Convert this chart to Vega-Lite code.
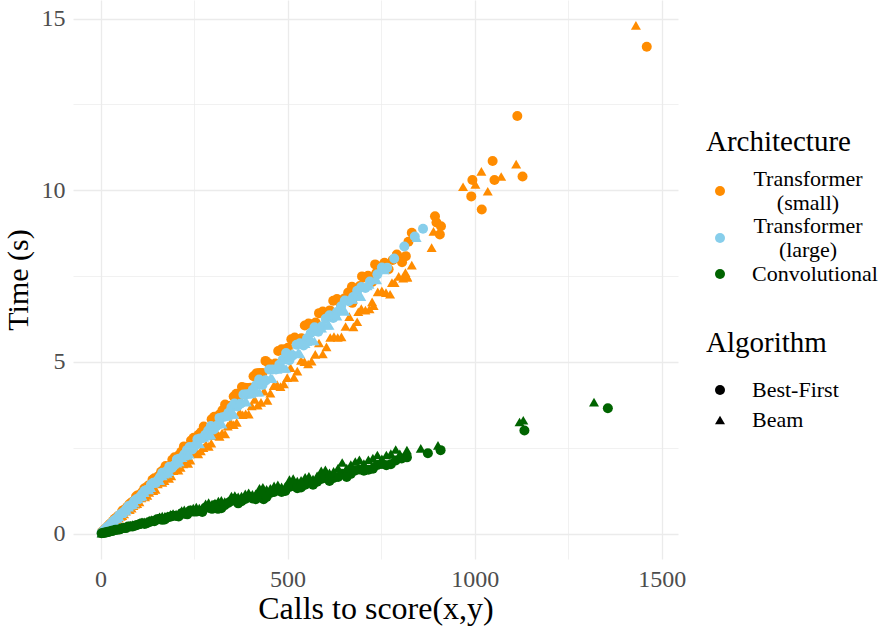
{
"$schema": "https://vega.github.io/schema/vega-lite/v6.json",
"width": 605, "height": 559,
"autosize": {"type": "none"},
"padding": {"left": 73, "top": 0, "right": 210, "bottom": 71},
"background": "white",
"config": {"view": {"stroke": null}, "font": "Liberation Serif"},
"datasets": {
"series": [
{"s":1,"arch":"Transformer (small)","alg":"Best-First"},
{"s":2,"arch":"Transformer (small)","alg":"Beam"},
{"s":3,"arch":"Transformer (large)","alg":"Best-First"},
{"s":4,"arch":"Transformer (large)","alg":"Beam"},
{"s":5,"arch":"Convolutional","alg":"Best-First"},
{"s":6,"arch":"Convolutional","alg":"Beam"}
],
"points": [
{"s":1,"x":4,"y":0.05},{"s":1,"x":12,"y":0.13},{"s":1,"x":20,"y":0.22},{"s":1,"x":30,"y":0.32},{"s":1,"x":38,"y":0.43},{"s":1,"x":47,"y":0.51},{"s":1,"x":58,"y":0.66},{"s":1,"x":66,"y":0.70},{"s":1,"x":77,"y":0.85},{"s":1,"x":86,"y":0.93},{"s":1,"x":95,"y":1.08},{"s":1,"x":106,"y":1.11},{"s":1,"x":117,"y":1.31},{"s":1,"x":128,"y":1.40},{"s":1,"x":139,"y":1.57},{"s":1,"x":150,"y":1.61},{"s":1,"x":162,"y":1.80},{"s":1,"x":174,"y":1.97},{"s":1,"x":186,"y":1.97},{"s":1,"x":198,"y":2.22},{"s":1,"x":210,"y":2.29},{"s":1,"x":223,"y":2.54},{"s":1,"x":236,"y":2.53},{"s":1,"x":249,"y":2.79},{"s":1,"x":262,"y":2.88},{"s":1,"x":276,"y":3.12},{"s":1,"x":290,"y":3.07},{"s":1,"x":304,"y":3.40},{"s":1,"x":318,"y":3.47},{"s":1,"x":333,"y":3.76},{"s":1,"x":348,"y":3.72},{"s":1,"x":363,"y":4.07},{"s":1,"x":378,"y":4.27},{"s":1,"x":393,"y":4.24},{"s":1,"x":409,"y":4.58},{"s":1,"x":425,"y":4.68},{"s":1,"x":441,"y":5.03},{"s":1,"x":458,"y":4.85},{"s":1,"x":475,"y":5.32},{"s":1,"x":492,"y":5.36},{"s":1,"x":510,"y":5.66},{"s":1,"x":528,"y":5.65},{"s":1,"x":546,"y":6.06},{"s":1,"x":565,"y":6.10},{"s":1,"x":584,"y":6.42},{"s":1,"x":603,"y":6.39},{"s":1,"x":622,"y":6.78},{"s":1,"x":642,"y":6.68},{"s":1,"x":662,"y":7.02},{"s":1,"x":683,"y":7.03},{"s":1,"x":704,"y":7.46},{"s":1,"x":726,"y":7.33},{"s":1,"x":748,"y":7.78},{"s":1,"x":770,"y":7.70},{"s":1,"x":793,"y":8.09},{"s":1,"x":816,"y":8.08},
{"s":1,"x":8,"y":0.09},{"s":1,"x":16,"y":0.17},{"s":1,"x":25,"y":0.28},{"s":1,"x":34,"y":0.37},{"s":1,"x":43,"y":0.47},{"s":1,"x":52,"y":0.55},{"s":1,"x":62,"y":0.69},{"s":1,"x":71,"y":0.77},{"s":1,"x":81,"y":0.89},{"s":1,"x":91,"y":0.96},{"s":1,"x":100,"y":1.12},{"s":1,"x":111,"y":1.20},{"s":1,"x":122,"y":1.34},{"s":1,"x":133,"y":1.41},{"s":1,"x":144,"y":1.61},{"s":1,"x":156,"y":1.68},{"s":1,"x":168,"y":1.85},{"s":1,"x":180,"y":1.91},{"s":1,"x":192,"y":2.15},{"s":1,"x":204,"y":2.20},{"s":1,"x":216,"y":2.38},{"s":1,"x":229,"y":2.43},{"s":1,"x":242,"y":2.71},{"s":1,"x":255,"y":2.75},{"s":1,"x":269,"y":2.96},{"s":1,"x":283,"y":3.00},{"s":1,"x":297,"y":3.33},{"s":1,"x":311,"y":3.36},{"s":1,"x":326,"y":3.59},{"s":1,"x":341,"y":3.61},{"s":1,"x":356,"y":3.99},{"s":1,"x":371,"y":4.01},{"s":1,"x":386,"y":4.25},{"s":1,"x":401,"y":4.25},{"s":1,"x":417,"y":4.67},{"s":1,"x":433,"y":4.68},{"s":1,"x":450,"y":4.95},{"s":1,"x":467,"y":4.95},{"s":1,"x":484,"y":5.37},{"s":1,"x":501,"y":5.41},{"s":1,"x":519,"y":5.71},{"s":1,"x":537,"y":5.69},{"s":1,"x":556,"y":6.12},{"s":1,"x":575,"y":6.15},{"s":1,"x":594,"y":6.47},{"s":1,"x":613,"y":6.50},{"s":1,"x":632,"y":6.83},{"s":1,"x":652,"y":6.85},{"s":1,"x":672,"y":7.19},{"s":1,"x":693,"y":7.21},{"s":1,"x":715,"y":7.51},{"s":1,"x":737,"y":7.59},{"s":1,"x":759,"y":7.89},{"s":1,"x":781,"y":7.97},
{"s":1,"x":823,"y":8.50},{"s":1,"x":832,"y":8.76},{"s":1,"x":894,"y":9.24},{"s":1,"x":898,"y":9.06},{"s":1,"x":907,"y":8.71},{"s":1,"x":910,"y":8.95},{"s":1,"x":991,"y":9.82},{"s":1,"x":994,"y":10.30},{"s":1,"x":1019,"y":9.44},{"s":1,"x":1048,"y":10.85},{"s":1,"x":1053,"y":10.30},{"s":1,"x":1114,"y":12.16},{"s":1,"x":1128,"y":10.40},{"s":1,"x":1460,"y":14.18},{"s":1,"x":806,"y":7.90},{"s":1,"x":792,"y":8.13},{"s":1,"x":734,"y":7.84},{"s":1,"x":699,"y":7.49},{"s":1,"x":673,"y":6.72},
{"s":2,"x":6,"y":0.05},{"s":2,"x":15,"y":0.14},{"s":2,"x":25,"y":0.23},{"s":2,"x":34,"y":0.33},{"s":2,"x":44,"y":0.39},{"s":2,"x":54,"y":0.50},{"s":2,"x":63,"y":0.57},{"s":2,"x":73,"y":0.70},{"s":2,"x":83,"y":0.74},{"s":2,"x":93,"y":0.86},{"s":2,"x":104,"y":0.92},{"s":2,"x":114,"y":1.08},{"s":2,"x":125,"y":1.11},{"s":2,"x":136,"y":1.26},{"s":2,"x":147,"y":1.29},{"s":2,"x":159,"y":1.53},{"s":2,"x":171,"y":1.54},{"s":2,"x":183,"y":1.61},{"s":2,"x":195,"y":1.83},{"s":2,"x":208,"y":1.85},{"s":2,"x":221,"y":2.03},{"s":2,"x":234,"y":2.04},{"s":2,"x":247,"y":2.35},{"s":2,"x":261,"y":2.32},{"s":2,"x":275,"y":2.50},{"s":2,"x":289,"y":2.54},{"s":2,"x":303,"y":2.85},{"s":2,"x":318,"y":2.83},{"s":2,"x":333,"y":2.90},{"s":2,"x":348,"y":3.24},{"s":2,"x":364,"y":3.24},{"s":2,"x":380,"y":3.46},{"s":2,"x":396,"y":3.48},{"s":2,"x":412,"y":3.91},{"s":2,"x":429,"y":3.82},{"s":2,"x":446,"y":3.88},{"s":2,"x":463,"y":4.31},{"s":2,"x":481,"y":4.28},{"s":2,"x":499,"y":4.54},{"s":2,"x":517,"y":4.55},{"s":2,"x":536,"y":5.04},{"s":2,"x":555,"y":4.94},{"s":2,"x":574,"y":5.22},{"s":2,"x":594,"y":5.23},{"s":2,"x":614,"y":5.71},{"s":2,"x":634,"y":5.71},{"s":2,"x":655,"y":6.03},{"s":2,"x":676,"y":6.02},{"s":2,"x":697,"y":6.55},{"s":2,"x":719,"y":6.54},{"s":2,"x":741,"y":7.04},{"s":2,"x":763,"y":7.02},{"s":2,"x":786,"y":7.31},{"s":2,"x":809,"y":7.44},{"s":2,"x":832,"y":7.82},
{"s":2,"x":10,"y":0.09},{"s":2,"x":20,"y":0.18},{"s":2,"x":29,"y":0.28},{"s":2,"x":39,"y":0.35},{"s":2,"x":49,"y":0.45},{"s":2,"x":58,"y":0.52},{"s":2,"x":68,"y":0.65},{"s":2,"x":78,"y":0.70},{"s":2,"x":88,"y":0.81},{"s":2,"x":98,"y":0.87},{"s":2,"x":109,"y":1.04},{"s":2,"x":119,"y":1.07},{"s":2,"x":130,"y":1.20},{"s":2,"x":141,"y":1.25},{"s":2,"x":153,"y":1.45},{"s":2,"x":165,"y":1.49},{"s":2,"x":177,"y":1.63},{"s":2,"x":189,"y":1.68},{"s":2,"x":201,"y":1.91},{"s":2,"x":214,"y":1.93},{"s":2,"x":227,"y":2.09},{"s":2,"x":240,"y":2.14},{"s":2,"x":254,"y":2.41},{"s":2,"x":268,"y":2.41},{"s":2,"x":282,"y":2.59},{"s":2,"x":296,"y":2.63},{"s":2,"x":310,"y":2.95},{"s":2,"x":325,"y":2.93},{"s":2,"x":340,"y":3.13},{"s":2,"x":356,"y":3.17},{"s":2,"x":372,"y":3.53},{"s":2,"x":388,"y":3.49},{"s":2,"x":404,"y":3.72},{"s":2,"x":420,"y":3.74},{"s":2,"x":437,"y":4.15},{"s":2,"x":454,"y":4.09},{"s":2,"x":472,"y":4.34},{"s":2,"x":490,"y":4.36},{"s":2,"x":508,"y":4.83},{"s":2,"x":526,"y":4.73},{"s":2,"x":545,"y":5.01},{"s":2,"x":564,"y":5.02},{"s":2,"x":584,"y":5.55},{"s":2,"x":604,"y":5.44},{"s":2,"x":624,"y":5.74},{"s":2,"x":644,"y":5.73},{"s":2,"x":665,"y":6.32},{"s":2,"x":686,"y":6.17},{"s":2,"x":708,"y":6.51},{"s":2,"x":730,"y":6.64},{"s":2,"x":752,"y":7.07},{"s":2,"x":774,"y":6.97},{"s":2,"x":797,"y":7.49},{"s":2,"x":820,"y":7.46},
{"s":2,"x":885,"y":8.33},{"s":2,"x":890,"y":8.80},{"s":2,"x":969,"y":10.10},{"s":2,"x":1002,"y":10.17},{"s":2,"x":1018,"y":10.55},{"s":2,"x":1035,"y":9.97},{"s":2,"x":1071,"y":10.40},{"s":2,"x":1111,"y":10.76},{"s":2,"x":1431,"y":14.80},{"s":2,"x":819,"y":7.49},{"s":2,"x":779,"y":7.31},{"s":2,"x":726,"y":6.75},{"s":2,"x":689,"y":6.46},{"s":2,"x":815,"y":7.60},
{"s":3,"x":3,"y":0.03},{"s":3,"x":10,"y":0.10},{"s":3,"x":18,"y":0.19},{"s":3,"x":27,"y":0.28},{"s":3,"x":36,"y":0.38},{"s":3,"x":45,"y":0.45},{"s":3,"x":55,"y":0.58},{"s":3,"x":65,"y":0.66},{"s":3,"x":75,"y":0.80},{"s":3,"x":85,"y":0.85},{"s":3,"x":96,"y":1.00},{"s":3,"x":107,"y":1.09},{"s":3,"x":118,"y":1.25},{"s":3,"x":129,"y":1.29},{"s":3,"x":141,"y":1.48},{"s":3,"x":153,"y":1.55},{"s":3,"x":165,"y":1.77},{"s":3,"x":178,"y":1.83},{"s":3,"x":191,"y":1.91},{"s":3,"x":204,"y":2.16},{"s":3,"x":217,"y":2.21},{"s":3,"x":231,"y":2.43},{"s":3,"x":245,"y":2.45},{"s":3,"x":259,"y":2.75},{"s":3,"x":273,"y":2.78},{"s":3,"x":288,"y":3.00},{"s":3,"x":303,"y":3.03},{"s":3,"x":318,"y":3.37},{"s":3,"x":334,"y":3.41},{"s":3,"x":350,"y":3.68},{"s":3,"x":366,"y":3.70},{"s":3,"x":382,"y":4.05},{"s":3,"x":399,"y":4.07},{"s":3,"x":416,"y":4.33},{"s":3,"x":433,"y":4.33},{"s":3,"x":451,"y":4.78},{"s":3,"x":469,"y":4.78},{"s":3,"x":487,"y":5.06},{"s":3,"x":505,"y":5.05},{"s":3,"x":524,"y":5.50},{"s":3,"x":543,"y":5.48},{"s":3,"x":562,"y":5.84},{"s":3,"x":582,"y":5.88},{"s":3,"x":602,"y":6.26},{"s":3,"x":622,"y":6.28},{"s":3,"x":643,"y":6.62},{"s":3,"x":664,"y":6.77},{"s":3,"x":686,"y":7.07},{"s":3,"x":708,"y":7.15},{"s":3,"x":740,"y":7.55},{"s":3,"x":766,"y":7.74},{"s":3,"x":840,"y":8.65},{"s":3,"x":862,"y":8.88},
{"s":3,"x":6,"y":0.06},{"s":3,"x":14,"y":0.15},{"s":3,"x":22,"y":0.22},{"s":3,"x":31,"y":0.32},{"s":3,"x":40,"y":0.41},{"s":3,"x":50,"y":0.53},{"s":3,"x":60,"y":0.61},{"s":3,"x":70,"y":0.73},{"s":3,"x":80,"y":0.82},{"s":3,"x":90,"y":0.95},{"s":3,"x":101,"y":1.02},{"s":3,"x":112,"y":1.16},{"s":3,"x":123,"y":1.27},{"s":3,"x":135,"y":1.43},{"s":3,"x":147,"y":1.48},{"s":3,"x":159,"y":1.65},{"s":3,"x":171,"y":1.76},{"s":3,"x":184,"y":1.95},{"s":3,"x":197,"y":1.99},{"s":3,"x":210,"y":2.18},{"s":3,"x":224,"y":2.31},{"s":3,"x":238,"y":2.52},{"s":3,"x":252,"y":2.55},{"s":3,"x":266,"y":2.77},{"s":3,"x":280,"y":2.88},{"s":3,"x":295,"y":3.13},{"s":3,"x":310,"y":3.13},{"s":3,"x":326,"y":3.39},{"s":3,"x":342,"y":3.52},{"s":3,"x":358,"y":3.79},{"s":3,"x":374,"y":3.78},{"s":3,"x":390,"y":4.06},{"s":3,"x":407,"y":4.19},{"s":3,"x":424,"y":4.49},{"s":3,"x":442,"y":4.46},{"s":3,"x":460,"y":4.78},{"s":3,"x":478,"y":4.92},{"s":3,"x":496,"y":5.26},{"s":3,"x":514,"y":5.19},{"s":3,"x":533,"y":5.54},{"s":3,"x":552,"y":5.69},{"s":3,"x":572,"y":6.01},{"s":3,"x":592,"y":6.04},{"s":3,"x":612,"y":6.36},{"s":3,"x":632,"y":6.45},{"s":3,"x":653,"y":6.79},{"s":3,"x":675,"y":6.89},{"s":3,"x":697,"y":7.18},{"s":3,"x":720,"y":7.34},{"s":3,"x":752,"y":7.75},{"s":3,"x":785,"y":8.01},{"s":3,"x":812,"y":8.36},
{"s":4,"x":7,"y":0.07},{"s":4,"x":14,"y":0.14},{"s":4,"x":23,"y":0.22},{"s":4,"x":32,"y":0.32},{"s":4,"x":41,"y":0.43},{"s":4,"x":50,"y":0.49},{"s":4,"x":60,"y":0.61},{"s":4,"x":70,"y":0.69},{"s":4,"x":80,"y":0.83},{"s":4,"x":91,"y":0.89},{"s":4,"x":101,"y":1.02},{"s":4,"x":112,"y":1.09},{"s":4,"x":124,"y":1.28},{"s":4,"x":135,"y":1.34},{"s":4,"x":147,"y":1.50},{"s":4,"x":159,"y":1.54},{"s":4,"x":171,"y":1.73},{"s":4,"x":184,"y":1.80},{"s":4,"x":197,"y":2.03},{"s":4,"x":211,"y":2.09},{"s":4,"x":224,"y":2.26},{"s":4,"x":238,"y":2.31},{"s":4,"x":252,"y":2.60},{"s":4,"x":266,"y":2.61},{"s":4,"x":281,"y":2.84},{"s":4,"x":296,"y":2.87},{"s":4,"x":311,"y":3.17},{"s":4,"x":326,"y":3.19},{"s":4,"x":342,"y":3.45},{"s":4,"x":358,"y":3.47},{"s":4,"x":374,"y":3.81},{"s":4,"x":391,"y":3.83},{"s":4,"x":408,"y":4.12},{"s":4,"x":425,"y":4.12},{"s":4,"x":442,"y":4.51},{"s":4,"x":460,"y":4.51},{"s":4,"x":478,"y":4.83},{"s":4,"x":496,"y":4.81},{"s":4,"x":515,"y":5.25},{"s":4,"x":534,"y":5.23},{"s":4,"x":553,"y":5.59},{"s":4,"x":572,"y":5.61},{"s":4,"x":592,"y":5.98},{"s":4,"x":612,"y":6.06},{"s":4,"x":633,"y":6.33},{"s":4,"x":654,"y":6.47},{"s":4,"x":675,"y":6.82},{"s":4,"x":697,"y":6.90},{"s":4,"x":719,"y":7.26},{"s":4,"x":739,"y":7.39},{"s":4,"x":760,"y":7.68},{"s":4,"x":845,"y":8.62},
{"s":4,"x":3,"y":0.03},{"s":4,"x":11,"y":0.11},{"s":4,"x":19,"y":0.20},{"s":4,"x":28,"y":0.28},{"s":4,"x":37,"y":0.37},{"s":4,"x":46,"y":0.45},{"s":4,"x":56,"y":0.58},{"s":4,"x":66,"y":0.66},{"s":4,"x":76,"y":0.77},{"s":4,"x":86,"y":0.84},{"s":4,"x":96,"y":0.99},{"s":4,"x":107,"y":1.07},{"s":4,"x":118,"y":1.19},{"s":4,"x":130,"y":1.27},{"s":4,"x":142,"y":1.46},{"s":4,"x":154,"y":1.54},{"s":4,"x":166,"y":1.68},{"s":4,"x":179,"y":1.75},{"s":4,"x":192,"y":1.98},{"s":4,"x":205,"y":2.05},{"s":4,"x":219,"y":2.21},{"s":4,"x":233,"y":2.28},{"s":4,"x":247,"y":2.54},{"s":4,"x":262,"y":2.62},{"s":4,"x":277,"y":2.80},{"s":4,"x":292,"y":2.86},{"s":4,"x":307,"y":3.16},{"s":4,"x":322,"y":3.22},{"s":4,"x":338,"y":3.41},{"s":4,"x":354,"y":3.47},{"s":4,"x":370,"y":3.81},{"s":4,"x":386,"y":3.86},{"s":4,"x":403,"y":4.07},{"s":4,"x":420,"y":4.12},{"s":4,"x":437,"y":4.50},{"s":4,"x":455,"y":4.55},{"s":4,"x":473,"y":4.78},{"s":4,"x":491,"y":4.81},{"s":4,"x":510,"y":5.25},{"s":4,"x":529,"y":5.29},{"s":4,"x":548,"y":5.53},{"s":4,"x":567,"y":5.61},{"s":4,"x":587,"y":5.99},{"s":4,"x":607,"y":6.07},{"s":4,"x":628,"y":6.41},{"s":4,"x":649,"y":6.49},{"s":4,"x":670,"y":6.83},{"s":4,"x":692,"y":6.92},{"s":4,"x":714,"y":7.21},{"s":4,"x":735,"y":7.42},
{"s":5,"x":3,"y":0.01},{"s":5,"x":11,"y":0.03},{"s":5,"x":20,"y":0.05},{"s":5,"x":30,"y":0.08},{"s":5,"x":40,"y":0.11},{"s":5,"x":51,"y":0.12},{"s":5,"x":62,"y":0.16},{"s":5,"x":74,"y":0.21},{"s":5,"x":86,"y":0.21},{"s":5,"x":98,"y":0.25},{"s":5,"x":111,"y":0.30},{"s":5,"x":124,"y":0.30},{"s":5,"x":137,"y":0.36},{"s":5,"x":151,"y":0.42},{"s":5,"x":165,"y":0.40},{"s":5,"x":179,"y":0.47},{"s":5,"x":194,"y":0.52},{"s":5,"x":209,"y":0.50},{"s":5,"x":224,"y":0.58},{"s":5,"x":240,"y":0.67},{"s":5,"x":256,"y":0.64},{"s":5,"x":272,"y":0.63},{"s":5,"x":289,"y":0.75},{"s":5,"x":306,"y":0.83},{"s":5,"x":314,"y":0.72},{"s":5,"x":323,"y":0.74},{"s":5,"x":341,"y":0.89},{"s":5,"x":359,"y":1.01},{"s":5,"x":377,"y":0.94},{"s":5,"x":396,"y":1.07},{"s":5,"x":415,"y":1.00},{"s":5,"x":436,"y":1.00},{"s":5,"x":454,"y":1.18},{"s":5,"x":474,"y":1.28},{"s":5,"x":494,"y":1.24},{"s":5,"x":515,"y":1.39},{"s":5,"x":536,"y":1.34},{"s":5,"x":557,"y":1.50},{"s":5,"x":579,"y":1.51},{"s":5,"x":601,"y":1.62},{"s":5,"x":623,"y":1.62},{"s":5,"x":646,"y":1.74},{"s":5,"x":669,"y":1.74},{"s":5,"x":692,"y":1.87},{"s":5,"x":716,"y":1.86},{"s":5,"x":740,"y":2.00},{"s":5,"x":764,"y":1.99},{"s":5,"x":789,"y":2.13},{"s":5,"x":805,"y":2.19},{"s":5,"x":819,"y":2.22},{"s":5,"x":875,"y":2.34},{"s":5,"x":909,"y":2.43},{"s":5,"x":1133,"y":3.00},{"s":5,"x":1356,"y":3.65},
{"s":5,"x":7,"y":0.02},{"s":5,"x":16,"y":0.04},{"s":5,"x":25,"y":0.06},{"s":5,"x":35,"y":0.09},{"s":5,"x":45,"y":0.11},{"s":5,"x":56,"y":0.15},{"s":5,"x":68,"y":0.16},{"s":5,"x":80,"y":0.21},{"s":5,"x":92,"y":0.23},{"s":5,"x":105,"y":0.28},{"s":5,"x":118,"y":0.28},{"s":5,"x":131,"y":0.34},{"s":5,"x":144,"y":0.36},{"s":5,"x":158,"y":0.43},{"s":5,"x":172,"y":0.41},{"s":5,"x":187,"y":0.49},{"s":5,"x":202,"y":0.51},{"s":5,"x":217,"y":0.59},{"s":5,"x":232,"y":0.56},{"s":5,"x":248,"y":0.64},{"s":5,"x":264,"y":0.66},{"s":5,"x":281,"y":0.76},{"s":5,"x":298,"y":0.72},{"s":5,"x":315,"y":0.82},{"s":5,"x":332,"y":0.83},{"s":5,"x":350,"y":0.95},{"s":5,"x":368,"y":0.88},{"s":5,"x":387,"y":1.01},{"s":5,"x":406,"y":1.02},{"s":5,"x":425,"y":1.15},{"s":5,"x":444,"y":1.07},{"s":5,"x":464,"y":1.21},{"s":5,"x":484,"y":1.21},{"s":5,"x":505,"y":1.36},{"s":5,"x":526,"y":1.32},{"s":5,"x":547,"y":1.42},{"s":5,"x":568,"y":1.42},{"s":5,"x":590,"y":1.59},{"s":5,"x":612,"y":1.53},{"s":5,"x":635,"y":1.65},{"s":5,"x":658,"y":1.65},{"s":5,"x":681,"y":1.84},{"s":5,"x":704,"y":1.83},{"s":5,"x":728,"y":1.89},{"s":5,"x":752,"y":2.03},{"s":5,"x":776,"y":2.02},
{"s":6,"x":6,"y":0.02},{"s":6,"x":15,"y":0.05},{"s":6,"x":25,"y":0.07},{"s":6,"x":35,"y":0.11},{"s":6,"x":46,"y":0.12},{"s":6,"x":57,"y":0.18},{"s":6,"x":68,"y":0.20},{"s":6,"x":80,"y":0.24},{"s":6,"x":92,"y":0.26},{"s":6,"x":104,"y":0.32},{"s":6,"x":117,"y":0.34},{"s":6,"x":130,"y":0.39},{"s":6,"x":144,"y":0.40},{"s":6,"x":158,"y":0.49},{"s":6,"x":172,"y":0.50},{"s":6,"x":187,"y":0.56},{"s":6,"x":202,"y":0.57},{"s":6,"x":217,"y":0.67},{"s":6,"x":232,"y":0.67},{"s":6,"x":248,"y":0.74},{"s":6,"x":264,"y":0.74},{"s":6,"x":281,"y":0.87},{"s":6,"x":298,"y":0.86},{"s":6,"x":315,"y":0.95},{"s":6,"x":332,"y":0.93},{"s":6,"x":350,"y":1.09},{"s":6,"x":368,"y":1.07},{"s":6,"x":387,"y":1.16},{"s":6,"x":406,"y":1.14},{"s":6,"x":425,"y":1.32},{"s":6,"x":444,"y":1.29},{"s":6,"x":464,"y":1.39},{"s":6,"x":484,"y":1.36},{"s":6,"x":505,"y":1.57},{"s":6,"x":526,"y":1.53},{"s":6,"x":547,"y":1.64},{"s":6,"x":568,"y":1.59},{"s":6,"x":590,"y":1.83},{"s":6,"x":612,"y":1.77},{"s":6,"x":635,"y":1.91},{"s":6,"x":658,"y":1.91},{"s":6,"x":681,"y":2.10},{"s":6,"x":704,"y":2.04},{"s":6,"x":728,"y":2.20},{"s":6,"x":752,"y":2.18},{"s":6,"x":776,"y":2.33},{"s":6,"x":800,"y":2.32},{"s":6,"x":819,"y":2.43},{"s":6,"x":856,"y":2.48},{"s":6,"x":902,"y":2.57},{"s":6,"x":1120,"y":3.25},{"s":6,"x":1130,"y":3.30},{"s":6,"x":1319,"y":3.83},
{"s":6,"x":3,"y":0.01},{"s":6,"x":11,"y":0.03},{"s":6,"x":20,"y":0.06},{"s":6,"x":30,"y":0.09},{"s":6,"x":40,"y":0.12},{"s":6,"x":51,"y":0.14},{"s":6,"x":62,"y":0.19},{"s":6,"x":74,"y":0.21},{"s":6,"x":86,"y":0.26},{"s":6,"x":98,"y":0.27},{"s":6,"x":111,"y":0.34},{"s":6,"x":124,"y":0.36},{"s":6,"x":137,"y":0.41},{"s":6,"x":151,"y":0.42},{"s":6,"x":165,"y":0.51},{"s":6,"x":179,"y":0.52},{"s":6,"x":194,"y":0.58},{"s":6,"x":209,"y":0.59},{"s":6,"x":224,"y":0.69},{"s":6,"x":240,"y":0.70},{"s":6,"x":256,"y":0.77},{"s":6,"x":272,"y":0.76},{"s":6,"x":289,"y":0.90},{"s":6,"x":306,"y":0.89},{"s":6,"x":323,"y":0.97},{"s":6,"x":341,"y":0.95},{"s":6,"x":359,"y":1.11},{"s":6,"x":377,"y":1.09},{"s":6,"x":396,"y":1.19},{"s":6,"x":415,"y":1.16},{"s":6,"x":434,"y":1.35},{"s":6,"x":454,"y":1.32},{"s":6,"x":474,"y":1.42},{"s":6,"x":494,"y":1.38},{"s":6,"x":515,"y":1.60},{"s":6,"x":536,"y":1.55},{"s":6,"x":557,"y":1.67},{"s":6,"x":579,"y":1.68},{"s":6,"x":601,"y":1.86},{"s":6,"x":623,"y":1.81},{"s":6,"x":646,"y":2.07},{"s":6,"x":669,"y":2.01},{"s":6,"x":692,"y":2.15},{"s":6,"x":716,"y":2.15},{"s":6,"x":740,"y":2.29},{"s":6,"x":764,"y":2.29},{"s":6,"x":789,"y":2.45}
]
},
"data": {"name": "points"},
"transform": [{"lookup": "s", "from": {"data": {"name": "series"}, "key": "s", "fields": ["arch", "alg"]}}],
"encoding": {
"x": {"field": "x", "type": "quantitative",
 "scale": {"domain": [-73.5, 1543.5], "nice": false, "zero": false},
 "axis": {"values": [0, 250, 500, 750, 1000, 1250, 1500], "format": "d",
  "labelExpr": "datum.value % 500 === 0 ? datum.label : ''",
  "title": "Calls to  score(x,y)", "ticks": false, "domain": false, "grid": true,
  "gridColor": "#EBEBEB", "gridWidth": {"condition": {"test": "datum.value % 500 === 0", "value": 1.3}, "value": 0.7},
  "labelFontSize": 24, "labelColor": "#4D4D4D", "labelPadding": 8, "labelFont": "Liberation Serif",
  "titleFontSize": 32, "titleColor": "black", "titleFontWeight": "normal", "titlePadding": 2, "titleFont": "Liberation Serif"}},
"y": {"field": "y", "type": "quantitative",
 "scale": {"domain": [-0.74, 15.54], "nice": false, "zero": false},
 "axis": {"values": [0, 2.5, 5, 7.5, 10, 12.5, 15],
  "labelExpr": "datum.value % 5 === 0 ? datum.label : ''",
  "title": "Time (s)", "ticks": false, "domain": false, "grid": true,
  "gridColor": "#EBEBEB", "gridWidth": {"condition": {"test": "datum.value % 5 === 0", "value": 1.3}, "value": 0.7},
  "labelFontSize": 24, "labelColor": "#4D4D4D", "labelPadding": 8, "labelFont": "Liberation Serif",
  "titleFontSize": 30, "titleColor": "black", "titleFontWeight": "normal", "titlePadding": 8, "titleFont": "Liberation Serif"}},
"shape": {"field": "alg", "type": "nominal",
 "scale": {"domain": ["Best-First", "Beam"], "range": ["circle", "triangle-up"]},
 "legend": {"title": "Algorithm", "orient": "none", "legendX": 633, "legendY": 329,
  "titleFontSize": 29, "titleFontWeight": "normal", "titleColor": "black", "titleFont": "Liberation Serif", "titlePadding": 21,
  "labelFontSize": 22, "labelColor": "black", "labelFont": "Liberation Serif", "labelOffset": 21,
  "symbolSize": 100, "symbolOffset": 3, "symbolFillColor": "black", "symbolStrokeColor": "black", "symbolStrokeWidth": 0, "rowPadding": 8}}
},
"layer": [
{"transform": [{"filter": "datum.arch !== 'Convolutional'"}],
 "mark": {"type": "point", "filled": true, "opacity": 1, "size": 100},
 "encoding": {"color": {"field": "arch", "type": "nominal",
  "scale": {"domain": ["Transformer (small)", "Transformer (large)"], "range": ["#FF8C00", "#87CEEB"]},
  "legend": {"title": "Architecture", "orient": "none", "legendX": 633, "legendY": 128,
   "titleFontSize": 29, "titleFontWeight": "normal", "titleColor": "black", "titleFont": "Liberation Serif", "titlePadding": 23,
   "labelFontSize": 22, "labelColor": "black", "labelFont": "Liberation Serif", "labelLimit": 300, "labelOffset": 77, "labelAlign": "center", "labelBaseline": "bottom",
   "symbolType": "circle", "symbolSize": 100, "symbolOffset": 3, "rowPadding": 1,
   "labelExpr": "datum.label == 'Transformer (small)' ? ['Transformer', '(small)'] : ['Transformer', '(large)']"}}}},
{"transform": [{"filter": "datum.arch === 'Convolutional'"}],
 "mark": {"type": "point", "filled": true, "opacity": 1, "size": 100},
 "encoding": {"color": {"field": "arch", "type": "nominal",
  "scale": {"domain": ["Convolutional"], "range": ["#006400"]},
  "legend": {"title": null, "orient": "none", "legendX": 633, "legendY": 263,
   "labelFontSize": 22, "labelColor": "black", "labelFont": "Liberation Serif", "labelLimit": 300, "labelOffset": 21,
   "symbolType": "circle", "symbolSize": 100, "symbolOffset": 3}}}}
],
"resolve": {"scale": {"color": "independent"}}
}
